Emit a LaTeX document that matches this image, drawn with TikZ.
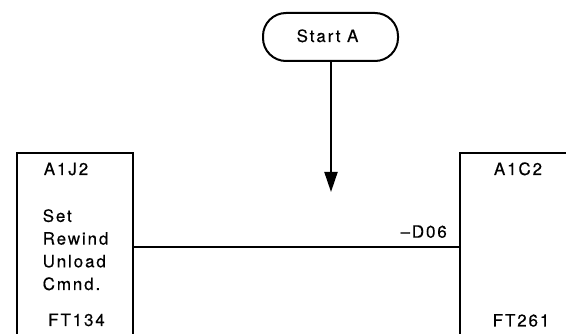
\documentclass[tikz,border=0pt]{standalone}
\usepackage{fontspec}
\setmainfont{TeX Gyre Heros}[LetterSpace=11,FakeBold=0.3]
\usetikzlibrary{arrows.meta}
\begin{document}
\begin{tikzpicture}[x=1pt,y=-1pt,
  lbl/.style={font=\fontsize{17}{22.7}\selectfont, inner sep=0pt, anchor=base},
  term/.style={draw, line width=2pt, rounded corners=23pt, minimum width=135pt, minimum height=48pt},
  openbox/.style={draw, line width=2pt, rectangle, inner sep=0pt},
  wire/.style={line width=2pt}]
\useasboundingbox (0,0) rectangle (566,334);
\node[term] (start) at (330.5,37) {};
\node[lbl] (starttxt) at (327.5,42) {Start A};
\node[openbox, minimum width=116pt, minimum height=200pt] (lbox) at (75,253) {};
\node[openbox, minimum width=120pt, minimum height=200pt] (rbox) at (520,253) {};
\coordinate (tip) at (331,192);
\draw[wire, -{Triangle[length=20pt,width=13pt]}] (start.south -| tip) -- (tip);
\coordinate (hy) at (0,247);
\draw[wire] (lbox.east |- hy) -- (rbox.west |- hy);
\node[lbl] (a1j2) at (66,175) {A1J2};
\node[lbl, align=left, anchor=north west] (cmd) at (42.5,209) {Set\\Rewind\\Unload\\Cmnd.};
\node[lbl] (ft134) at (76.5,326) {FT134};
\node[lbl] (a1c2) at (518,175) {A1C2};
\node[lbl] (ft261) at (521,326.5) {FT261};
\node[lbl, anchor=base east] (d06) at (447,237.7) {–D06};
\end{tikzpicture}
\end{document}
